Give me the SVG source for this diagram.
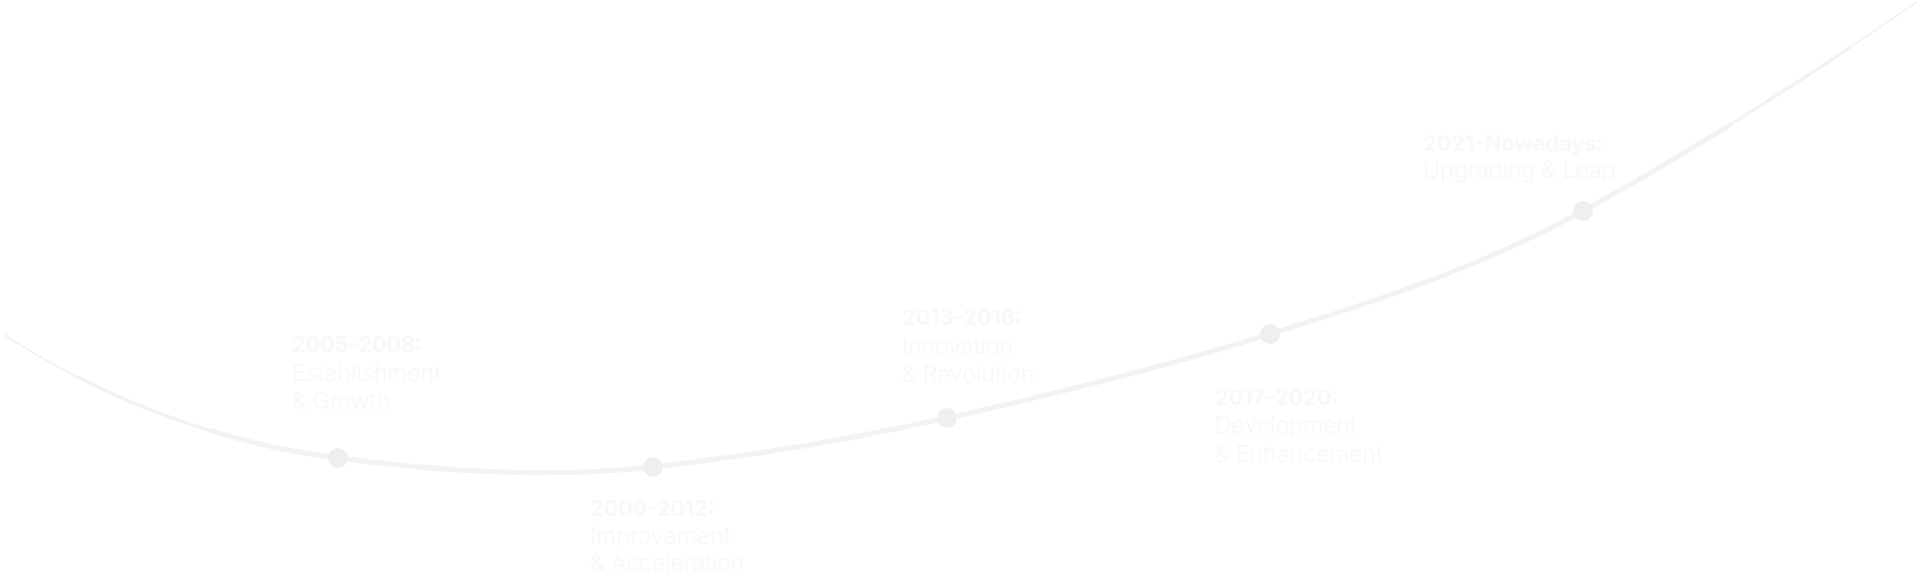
<svg xmlns="http://www.w3.org/2000/svg" width="1920" height="576" viewBox="0 0 1920 576">
<style>
text{font-family:Inter,"Liberation Sans",sans-serif;font-size:23px;font-weight:300;fill:#f8f8f8}
.yr{font-size:22px;font-weight:600}
.node{fill:#efefef}
.curve{fill:none;stroke:#f3f3f3;stroke-linecap:round}
</style>
<defs>
<path id="c" d="M7 337 C117 406 228 444 338 458 C443 471.4 548 478.5 653 467 C751 456.2 849 439.6 947 418 C1055 394.2 1162 367.5 1270 334 C1374 301.8 1479 268.2 1583 211 C1694 150 1806 78.6 1917 2"/>
</defs>
<rect width="1920" height="576" fill="#ffffff"/>
<g id="connectors">
<use href="#c" class="curve" stroke-width="2"/>
<path class="curve" stroke-width="3.5" pathLength="100" stroke-dasharray="0 4 92 100" d="M7 337 C117 406 228 444 338 458 C443 471.4 548 478.5 653 467 C751 456.2 849 439.6 947 418 C1055 394.2 1162 367.5 1270 334 C1374 301.8 1479 268.2 1583 211 C1694 150 1806 78.6 1917 2"/>
<path class="curve" stroke-width="5" pathLength="100" stroke-dasharray="0 11 78 100" d="M7 337 C117 406 228 444 338 458 C443 471.4 548 478.5 653 467 C751 456.2 849 439.6 947 418 C1055 394.2 1162 367.5 1270 334 C1374 301.8 1479 268.2 1583 211 C1694 150 1806 78.6 1917 2"/>
</g>
<g id="node1"><circle class="node" cx="338" cy="458" r="10"/><text x="292" y="352" class="yr">2005-2008:</text><text x="292" y="381">Establishment</text><text x="292" y="409">&amp; Growth</text></g>
<g id="node2"><circle class="node" cx="653" cy="467" r="10"/><text x="590" y="516" class="yr">2009-2012:</text><text x="590" y="544">Improvement</text><text x="590" y="571">&amp; Acceleration</text></g>
<g id="node3"><circle class="node" cx="947" cy="418" r="10"/><text x="902" y="325" class="yr">2013-2016:</text><text x="902" y="354">Innovation</text><text x="902" y="382">&amp; Revolution</text></g>
<g id="node4"><circle class="node" cx="1270" cy="334" r="10"/><text x="1215" y="405" class="yr">2017-2020:</text><text x="1215" y="433">Development</text><text x="1215" y="462">&amp; Enhancement</text></g>
<g id="node5"><circle class="node" cx="1583" cy="211" r="10"/><text x="1423" y="151" class="yr">2021-Nowadays:</text><text x="1423" y="178">Upgrading &amp; Leap</text></g>
</svg>
